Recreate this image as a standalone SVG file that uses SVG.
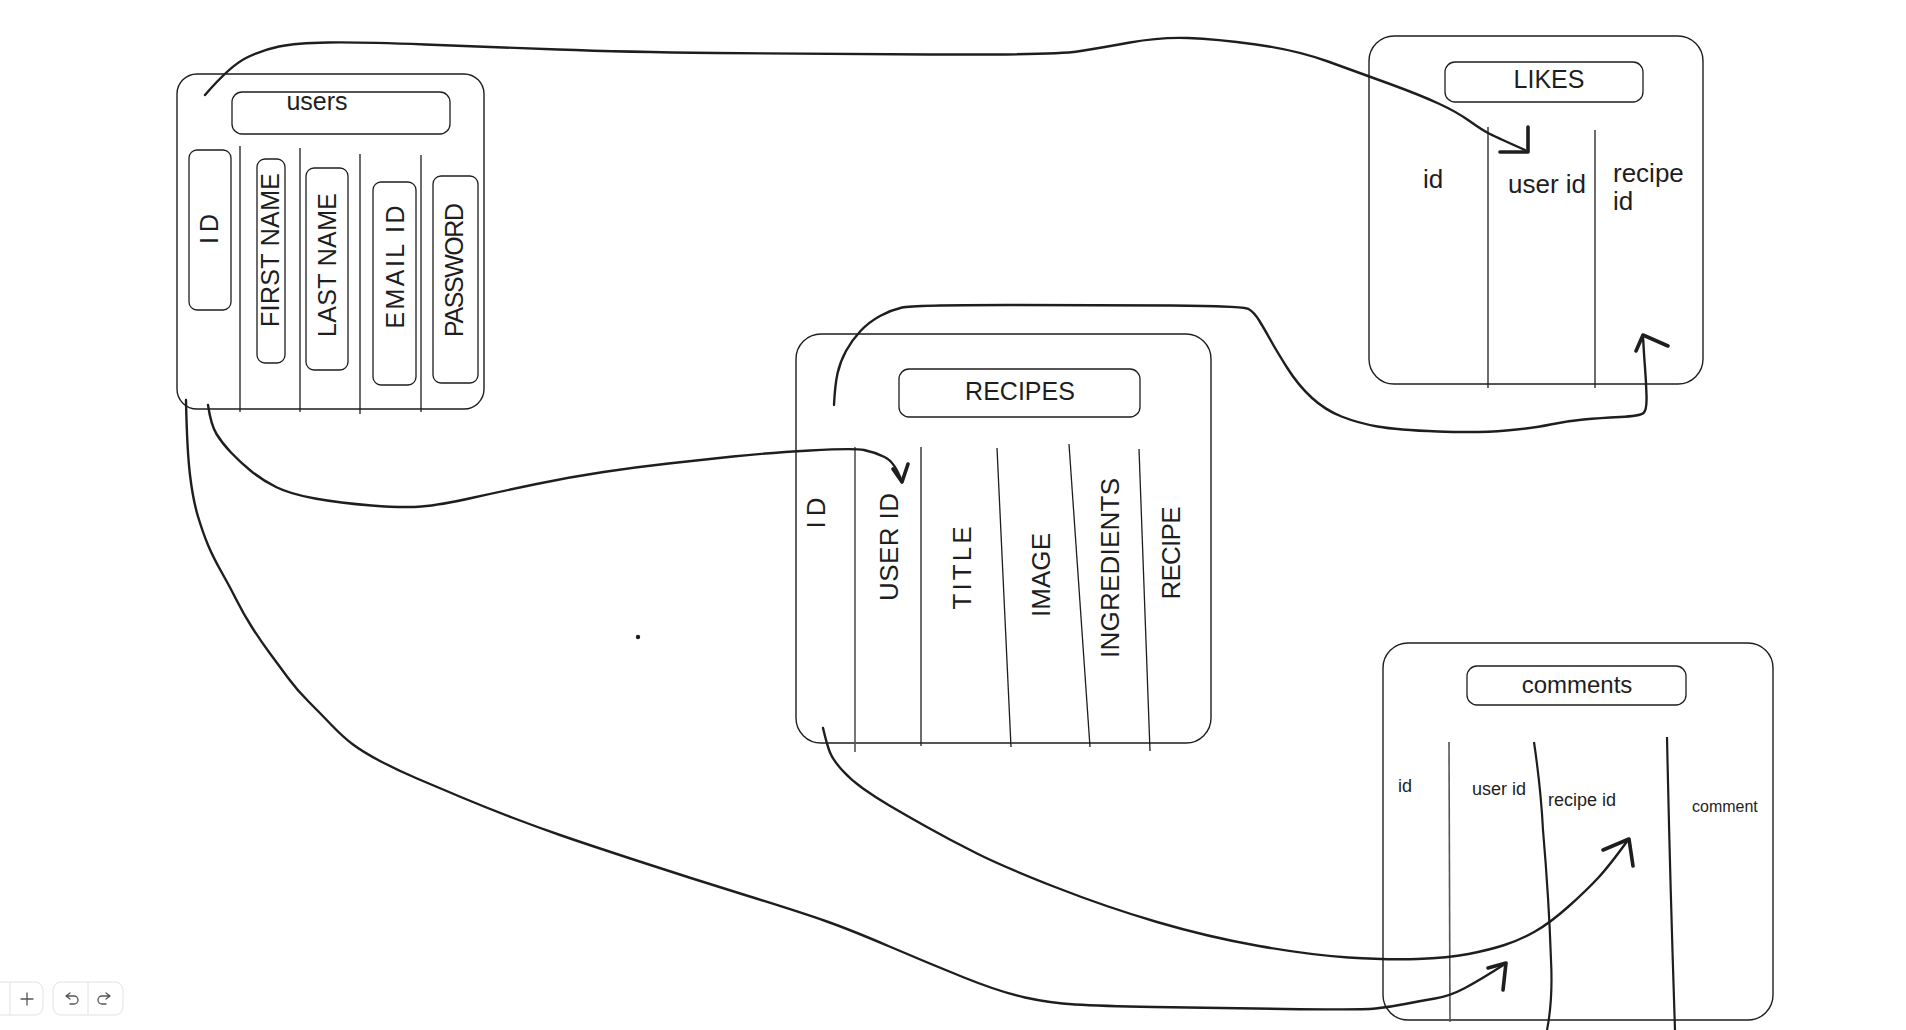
<svg xmlns="http://www.w3.org/2000/svg" width="1906" height="1030" viewBox="0 0 1906 1030">
<style>
.box{fill:none;stroke:#1e1e1e;stroke-width:1.4}
.ttl{fill:none;stroke:#1e1e1e;stroke-width:1.3}
.div{fill:none;stroke:#1e1e1e;stroke-width:1.3}
.divg{fill:none;stroke:#555;stroke-width:1.6}
.divt{fill:none;stroke:#1e1e1e;stroke-width:2.2}
.t{font-family:"Liberation Sans",Arial,sans-serif;fill:#1e1e1e}
.rot{text-anchor:middle;dominant-baseline:central}
.con{fill:none;stroke:#1e1e1e;stroke-width:2.4;stroke-linecap:round;stroke-linejoin:round}
.ah{fill:none;stroke:#1e1e1e;stroke-width:3.6;stroke-linecap:round;stroke-linejoin:round}
.tb{fill:#fff;stroke:#e2e2e2;stroke-width:1}
.ic{fill:none;stroke:#555;stroke-width:1.3;stroke-linecap:round;stroke-linejoin:round}
</style>
<rect width="1906" height="1030" fill="#ffffff"/>

<g id="users">
  <rect class="box" x="177" y="74" width="307" height="335" rx="20"/>
  <rect class="ttl" x="232" y="92" width="218" height="42" rx="10"/>
  <text class="t" x="317" y="110" font-size="25" text-anchor="middle">users</text>
  <line class="div" x1="240" y1="146" x2="240" y2="412"/>
  <line class="div" x1="300" y1="148" x2="300" y2="412"/>
  <line class="div" x1="360" y1="154" x2="360" y2="414"/>
  <line class="div" x1="421" y1="155" x2="421" y2="412"/>
  <rect class="ttl" x="189" y="150" width="42" height="160" rx="8"/>
  <rect class="ttl" x="257" y="159" width="28" height="204" rx="8"/>
  <rect class="ttl" x="306" y="168" width="42" height="202" rx="8"/>
  <rect class="ttl" x="373" y="182" width="43" height="203" rx="8"/>
  <rect class="ttl" x="433" y="176" width="45" height="207" rx="8"/>
  <text class="t rot" font-size="25" transform="translate(209 229) rotate(-90)" textLength="30">ID</text>
  <text class="t rot" font-size="25" transform="translate(270 250) rotate(-90)" textLength="154">FIRST NAME</text>
  <text class="t rot" font-size="25" transform="translate(327 265) rotate(-90)" textLength="144">LAST NAME</text>
  <text class="t rot" font-size="25" transform="translate(395 267) rotate(-90)" textLength="123">EMAIL ID</text>
  <text class="t rot" font-size="25" transform="translate(454 270) rotate(-90)" textLength="134">PASSWORD</text>
</g>

<g id="recipes">
  <rect class="box" x="796" y="334" width="415" height="409" rx="25"/>
  <rect class="ttl" x="899" y="369" width="241" height="48" rx="10"/>
  <text class="t" x="1020" y="400" font-size="25" text-anchor="middle">RECIPES</text>
  <line class="divg" x1="855" y1="447" x2="855" y2="752"/>
  <line class="div" x1="921" y1="447" x2="921" y2="746"/>
  <line class="div" x1="997" y1="448" x2="1011" y2="747"/>
  <line class="div" x1="1069" y1="444" x2="1090" y2="747"/>
  <line class="div" x1="1139" y1="449" x2="1150" y2="751"/>
  <text class="t rot" font-size="26" transform="translate(816 513) rotate(-90)" textLength="31">ID</text>
  <text class="t rot" font-size="26" transform="translate(889 547) rotate(-90)" textLength="108">USER ID</text>
  <text class="t rot" font-size="26" transform="translate(962 568) rotate(-90)" textLength="83">TITLE</text>
  <text class="t rot" font-size="26" transform="translate(1041 575) rotate(-90)" textLength="84">IMAGE</text>
  <text class="t rot" font-size="26" transform="translate(1110 568) rotate(-90)" textLength="180">INGREDIENTS</text>
  <text class="t rot" font-size="26" transform="translate(1171 553) rotate(-90)" textLength="93">RECIPE</text>
</g>

<g id="likes">
  <rect class="box" x="1369" y="36" width="334" height="348" rx="25"/>
  <rect class="ttl" x="1445" y="62" width="198" height="40" rx="10"/>
  <text class="t" x="1549" y="88" font-size="25" text-anchor="middle">LIKES</text>
  <line class="div" x1="1488" y1="127" x2="1488" y2="388"/>
  <line class="div" x1="1595" y1="130" x2="1595" y2="388"/>
  <text class="t" x="1423" y="188" font-size="26">id</text>
  <text class="t" x="1508" y="193" font-size="26">user id</text>
  <text class="t" x="1613" y="182" font-size="26">recipe</text>
  <text class="t" x="1613" y="210" font-size="26">id</text>
</g>

<g id="comments">
  <rect class="box" x="1383" y="643" width="390" height="377" rx="25"/>
  <rect class="ttl" x="1467" y="666" width="219" height="39" rx="10"/>
  <text class="t" x="1577" y="693" font-size="24" text-anchor="middle">comments</text>
  <line class="divg" x1="1449" y1="742" x2="1450" y2="1022"/>
  <path class="divt" d="M1534,742 Q1541,790 1543,830 Q1549,900 1551,960 Q1553,1000 1547,1030"/>
  <path class="divt" d="M1667,737 Q1670,880 1675,1030"/>
  <text class="t" x="1398" y="792" font-size="18">id</text>
  <text class="t" x="1472" y="795" font-size="18">user id</text>
  <text class="t" x="1548" y="806" font-size="18">recipe id</text>
  <text class="t" x="1692" y="812" font-size="16">comment</text>
</g>

<g id="connectors">
  <path class="con" d="M205,95 Q230,66 246,58 Q262,50 279,46.5 Q296,43 328,42.5 Q360,42 425,44.5 Q490,47 558,49.5 Q626,52 715.5,53 Q805,54 930,54.5 Q1055,55 1077.5,51.5 Q1100,48 1130,42.5 Q1160,37 1188,38 Q1216,39 1256,44.5 Q1296,50 1328,61.5 Q1360,73 1390,84 Q1420,95 1438.5,103.5 Q1457,112 1469.5,121 Q1482,130 1490,134 Q1498,138 1525,150"/>
  <path class="ah" d="M1528,127 L1528,152 L1500,152"/>

  <path class="con" d="M208,405 Q211,425 216.5,434 Q222,443 231,452.5 Q240,462 251,471 Q262,480 276,487 Q290,494 315,498.5 Q340,503 371.5,505.5 Q403,508 421.5,506.5 Q440,505 471.5,498 Q503,491 536.5,484 Q570,477 603.5,472 Q637,467 668.5,463.5 Q700,460 733,456.5 Q766,453 810,450.5 Q854,448 864,450 Q874,452 884.5,457 Q895,462 902,482"/>
  <path class="ah" d="M893,469 L902,482 L908,464"/>

  <path class="con" d="M186,400 Q187,450 190,475 Q193,500 198,516.5 Q203,533 208,545 Q213,557 221.5,572 Q230,587 236.5,600 Q243,613 251.5,626.5 Q260,640 270,653.5 Q280,667 288.5,678.5 Q297,690 308.5,701.5 Q320,713 331.5,725 Q343,737 353,744.5 Q363,752 380,761 Q397,770 417,778.5 Q437,787 462,797.5 Q487,808 512,817.5 Q537,827 560,835 Q583,843 636.5,860.5 Q690,878 745,895 Q800,912 825.5,921 Q851,930 889.5,946.5 Q928,963 964,977.5 Q1000,992 1025,997.5 Q1050,1003 1075,1004.5 Q1100,1006 1154,1007 Q1208,1008 1284.5,1009 Q1361,1010 1375.5,1008.5 Q1390,1007 1405,1004 Q1420,1001 1435,998.5 Q1450,996 1465,988 Q1480,980 1505,964"/>
  <path class="ah" d="M1488,968 L1506,963 L1503,990"/>

  <path class="con" d="M823,728 Q827,745 830,752.5 Q833,760 842,770 Q851,780 863,788.5 Q875,797 888.5,805 Q902,813 926,826.5 Q950,840 977,853.5 Q1004,867 1055,887 Q1106,907 1157,922 Q1208,937 1259,946 Q1310,955 1348.5,957.5 Q1387,960 1417.5,959 Q1448,958 1468.5,954 Q1489,950 1504.5,945 Q1520,940 1535,931.5 Q1550,923 1568.5,906.5 Q1587,890 1598.5,877.5 Q1610,865 1628,840"/>
  <path class="ah" d="M1603,850 L1629,839 L1633,866"/>

  <path class="con" d="M834,405 Q835,385 837.5,373.5 Q840,362 846,351 Q852,340 860.5,331 Q869,322 880,316 Q891,310 902,307.5 Q913,305 1006.5,305 Q1100,305 1171.5,305.5 Q1243,306 1248.5,309 Q1254,312 1259.5,321 Q1265,330 1270.5,340 Q1276,350 1287,367.5 Q1298,385 1311.5,397.5 Q1325,410 1341.5,416.5 Q1358,423 1377.5,426.5 Q1397,430 1438,431.5 Q1479,433 1506.5,430.5 Q1534,428 1550.5,424.5 Q1567,421 1583.5,419.5 Q1600,418 1620,417 Q1640,416 1643.5,413 Q1647,410 1646.5,395 Q1646,380 1645,367.5 Q1644,355 1643,336"/>
  <path class="ah" d="M1636,351 L1643,335 L1668,346"/>
</g>

<circle cx="638" cy="637" r="2.2" fill="#1e1e1e"/>

<g id="toolbar">
  <rect class="tb" x="-10" y="982" width="53" height="33" rx="8"/>
  <line x1="10" y1="982" x2="10" y2="1015" stroke="#e2e2e2"/>
  <path class="ic" d="M21,999 H33 M27,993 V1005"/>
  <rect class="tb" x="53" y="982" width="70" height="33" rx="8"/>
  <line x1="88" y1="982" x2="88" y2="1015" stroke="#e2e2e2"/>
  <path class="ic" d="M70,993 L66,996 L70,999 M66,996 H74 A4,4 0 0 1 74,1004 H70"/>
  <path class="ic" d="M106,993 L110,996 L106,999 M110,996 H102 A4,4 0 0 0 102,1004 H106"/>
</g>
</svg>
